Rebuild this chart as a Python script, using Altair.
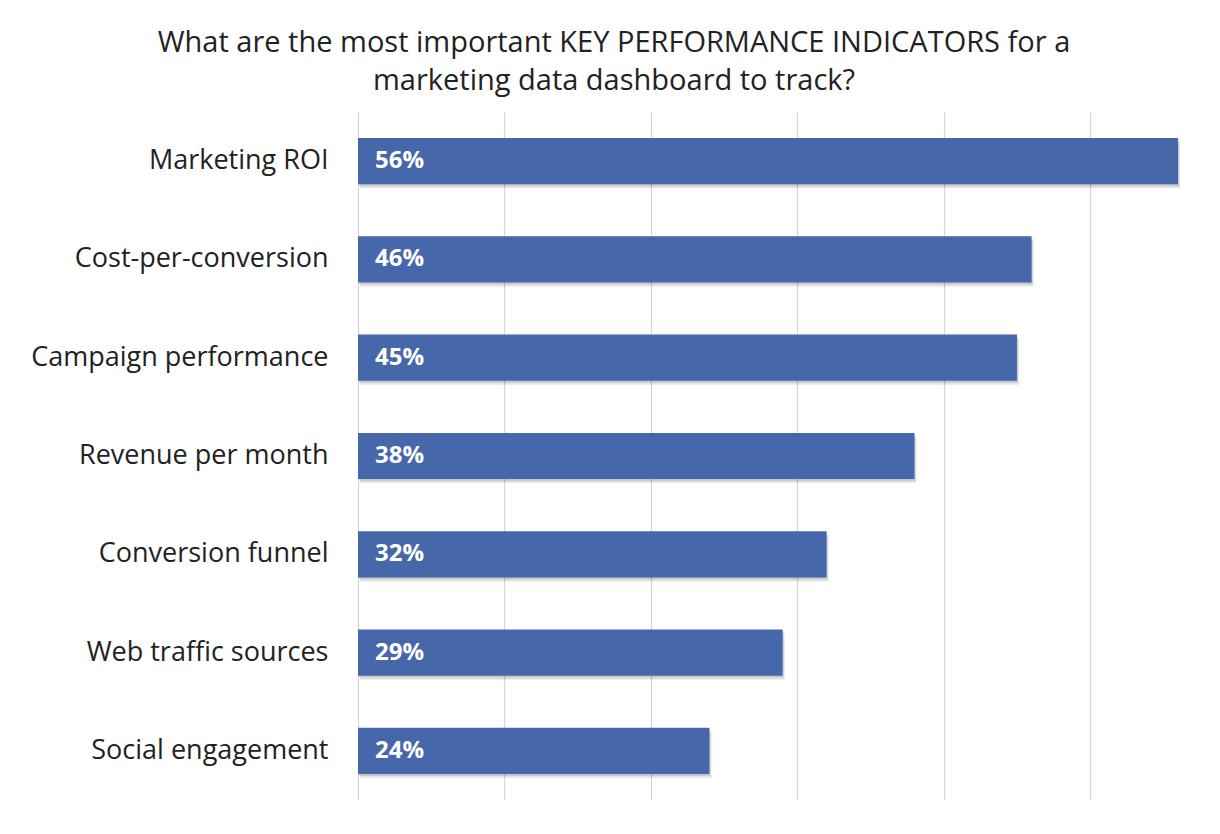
import altair as alt
import pandas as pd

categories = [
    "Marketing ROI",
    "Cost-per-conversion",
    "Campaign performance",
    "Revenue per month",
    "Conversion funnel",
    "Web traffic sources",
    "Social engagement",
]
values = [56, 46, 45, 38, 32, 29, 24]
value_labels = ["56%", "46%", "45%", "38%", "32%", "29%", "24%"]
x_ticks = [0, 10, 20, 30, 40, 50]

df = pd.DataFrame({"cat": categories, "val": values, "lab": value_labels, "zero": [0] * len(values)})

FONT = "Open Sans"
BAR = "#4767ab"

y_enc = alt.Y(
    "cat:N",
    sort=categories,
    scale=alt.Scale(paddingInner=0.53, paddingOuter=0.265),
    axis=alt.Axis(
        title=None, domain=False, ticks=False, labelPadding=30,
        labelFont=FONT, labelFontSize=27, labelColor="#222222",
        minExtent=330, maxExtent=330, labelLimit=400,
    ),
)
x_enc = alt.X(
    "val:Q",
    scale=alt.Scale(domain=[0, 57.5], nice=False),
    axis=alt.Axis(
        title=None, values=x_ticks, labels=False, domain=False, ticks=False,
        grid=True, gridColor="#d4d4d4", gridWidth=1.2,
    ),
)

base = alt.Chart(df)

shadow1 = base.mark_bar(color="#000000", opacity=0.10, xOffset=2, yOffset=4).encode(
    y=y_enc, x=x_enc
)
shadow2 = base.mark_bar(color="#000000", opacity=0.12, xOffset=1, yOffset=2).encode(
    y=y_enc, x=x_enc
)
bars = base.mark_bar(color=BAR).encode(y=y_enc, x=x_enc)
text = base.mark_text(
    align="left", baseline="middle", dx=17, color="white",
    font=FONT, fontSize=24, fontWeight="bold",
).encode(y=y_enc, x=alt.X("zero:Q"), text="lab:N")

chart = (
    alt.layer(shadow1, shadow2, bars, text)
    .properties(
        width=842,
        height=688,
        background="white",
        padding={"left": 20, "top": 21, "right": 5, "bottom": 5},
        title=alt.TitleParams(
            text=["What are the most important KEY PERFORMANCE INDICATORS for a",
                  "marketing data dashboard to track?"],
            font=FONT, fontSize=29, fontWeight="normal", color="#222222",
            anchor="middle", frame="bounds", lineHeight=38, offset=16,
        ),
    )
    .configure_view(strokeWidth=0, stroke="transparent")
)

chart.save("out.html", embed_options={"renderer": "svg", "actions": False})
